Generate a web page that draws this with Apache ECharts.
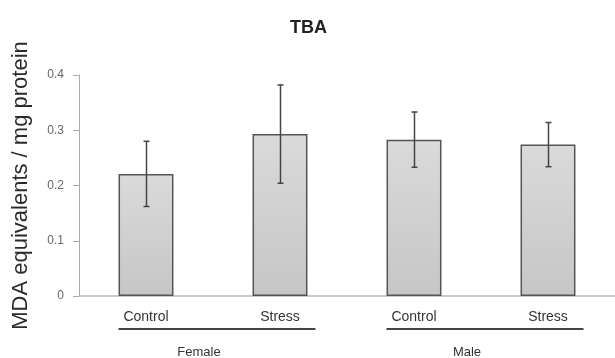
<!DOCTYPE html>
<html><head><meta charset="utf-8">
<script src="https://cdn.jsdelivr.net/npm/echarts@6/dist/echarts.min.js"></script>
<style>html,body{margin:0;padding:0;background:#fff}#c{width:615px;height:358px}</style>
</head><body><div id="c"></div>
<script>
var categories = ['Control', 'Stress', 'Control', 'Stress'];
var groups = ['Female', 'Male'];
var groupMembers = [[0, 1], [2, 3]];
var values = [0.221, 0.293, 0.283, 0.274];
var errors = [0.059, 0.089, 0.05, 0.04];
var yTicks = [0, 0.1, 0.2, 0.3, 0.4];

var chart = echarts.init(document.getElementById('c'), null, {renderer: 'canvas'});
var font = 'Liberation Sans, Arial, sans-serif';
var barFrac = 0.41;

var option = {
  backgroundColor: '#fff',
  animation: false,
  title: {text: 'TBA', left: 285, top: 14,
    textStyle: {fontFamily: font, fontSize: 18, fontWeight: 'bold', color: '#222'}},
  grid: {left: 79, right: 0, top: 75, bottom: 62, containLabel: false},
  xAxis: {type: 'category', data: categories,
    axisLine: {lineStyle: {color: '#bbb', width: 1.5}},
    axisTick: {show: false},
    axisLabel: {fontFamily: font, fontSize: 14, color: '#333', margin: 14}},
  yAxis: {type: 'value', min: 0, max: 0.4, interval: 0.1,
    name: 'MDA equivalents / mg protein', nameLocation: 'middle', nameGap: 47,
    nameTextStyle: {fontFamily: font, fontSize: 22, color: '#2a2a2a'},
    splitLine: {show: false},
    axisLine: {show: true, lineStyle: {color: '#aaa'}},
    axisTick: {show: true, length: 6, lineStyle: {color: '#aaa'}},
    axisLabel: {fontFamily: font, fontSize: 12, color: '#666', margin: 15,
      formatter: function (v) { return v === 0 ? '0' : v.toFixed(1); }}},
  series: [
    {type: 'bar', data: values, barWidth: (barFrac * 100) + '%',
      itemStyle: {color: new echarts.graphic.LinearGradient(0, 0, 0, 1, [
        {offset: 0, color: '#dadada'}, {offset: 0.5, color: '#d0d0d0'}, {offset: 1, color: '#c6c6c6'}]),
        borderColor: '#555', borderWidth: 1.5}},
    {type: 'custom', data: values.map(function (v, i) { return [i, v - errors[i], v + errors[i]]; }),
      z: 5,
      renderItem: function (params, api) {
        var lo = api.coord([api.value(0), api.value(1)]);
        var hi = api.coord([api.value(0), api.value(2)]);
        var x = Math.round(lo[0]) + 0.5;
        return {type: 'group', children: [
          {type: 'line', shape: {x1: x, y1: lo[1], x2: x, y2: hi[1]}, style: {stroke: '#444', lineWidth: 1.5}},
          {type: 'line', shape: {x1: x - 3, y1: hi[1], x2: x + 3, y2: hi[1]}, style: {stroke: '#444', lineWidth: 1.5}},
          {type: 'line', shape: {x1: x - 3, y1: lo[1], x2: x + 3, y2: lo[1]}, style: {stroke: '#444', lineWidth: 1.5}}
        ]};
      }},
    {type: 'custom', data: groups.map(function (g, i) { return [groupMembers[i][0], groupMembers[i][1], i]; }),
      clip: false, silent: true,
      renderItem: function (params, api) {
        var a = api.coord([api.value(0), 0]);
        var b = api.coord([api.value(1), 0]);
        var band = api.size([1, 0])[0];
        var x1 = a[0] - band * barFrac / 2;
        var x2 = b[0] + band * barFrac / 2 + 8;
        var y = a[1] + 33;
        var mid = (x1 + x2) / 2 - 18;
        return {type: 'group', children: [
          {type: 'line', shape: {x1: x1, y1: y, x2: x2, y2: y}, style: {stroke: '#444', lineWidth: 2}},
          {type: 'text', x: mid, y: y + 23, style: {text: groups[api.value(2)], fontFamily: font, fontSize: 13,
            fill: '#333', align: 'center', verticalAlign: 'middle'}}
        ]};
      }}
  ]
};
chart.setOption(option);
</script></body></html>
